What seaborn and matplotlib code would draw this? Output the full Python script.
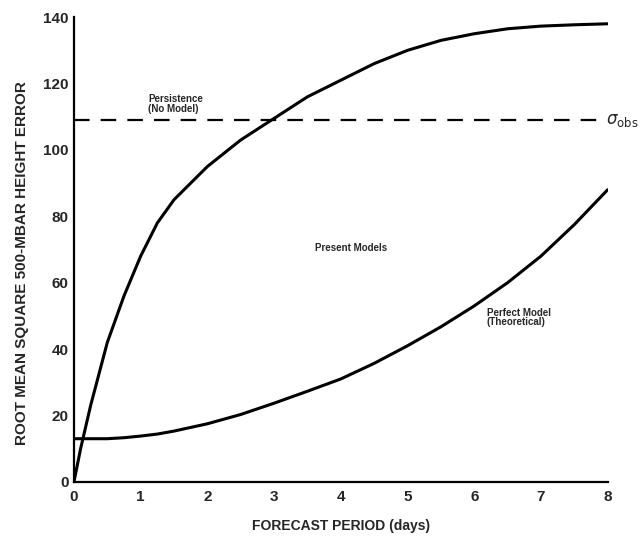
import matplotlib
matplotlib.use("Agg")
import matplotlib.pyplot as plt
import seaborn as sns
import numpy as np
import pandas as pd

# Data
days = [0, 0.1, 0.25, 0.5, 0.75, 1, 1.25, 1.5, 2, 2.5, 3, 3.5, 4, 4.5, 5, 5.5, 6, 6.5, 7, 7.5, 8]
present_models = [0, 10, 23, 42, 56, 68, 78, 85, 95, 103, 109.5, 116, 121, 126, 130, 133, 135, 136.5, 137.3, 137.7, 138]
perfect_model = [13, 13, 13, 13, 13.3, 13.8, 14.4, 15.3, 17.5, 20.3, 23.7, 27.3, 31, 35.7, 41, 46.7, 53, 60, 68, 77.5, 88]
persistence_level = 109
x_ticks = [0, 1, 2, 3, 4, 5, 6, 7, 8]
y_ticks = [0, 20, 40, 60, 80, 100, 120, 140]

df = pd.DataFrame({
    "days": days * 2,
    "error": present_models + perfect_model,
    "series": ["Present Models"] * len(days) + ["Perfect Model"] * len(days),
})

sns.set_style("white")
plt.rcParams['font.family'] = ['Liberation Sans', 'DejaVu Sans']

fig = plt.figure(figsize=(6.43, 5.36), dpi=100)
ax = fig.add_axes([0.115, 0.101, 0.83, 0.867])

sns.lineplot(data=df, x="days", y="error", units="series", estimator=None,
             color="black", linewidth=2.2, ax=ax, legend=False)
ax.plot([0, 7.85], [persistence_level, persistence_level], color="black",
        linewidth=1.6, linestyle=(0, (7, 5)))

ax.set_xlim(0, 8)
ax.set_ylim(0, 140)
ax.set_xticks(x_ticks)
ax.set_xticks(np.arange(0.5, 8, 1), minor=True)
ax.set_yticks(y_ticks)
ax.set_xticklabels([str(t) for t in x_ticks], fontweight="bold", fontsize=11)
ax.set_yticklabels([str(t) for t in y_ticks], fontweight="bold", fontsize=11)
ax.tick_params(axis="x", which="both", direction="in", length=7, width=1.3, pad=6)
ax.tick_params(axis="y", direction="in", length=11, width=1.5, pad=4)

for s in ["top", "right"]:
    ax.spines[s].set_visible(False)
for s in ["left", "bottom"]:
    ax.spines[s].set_linewidth(1.6)
    ax.spines[s].set_color("black")

ax.set_xlabel("FORECAST PERIOD (days)", fontweight="bold", fontsize=10, labelpad=11)
ax.set_ylabel("ROOT MEAN SQUARE 500-MBAR HEIGHT ERROR", fontweight="bold", fontsize=11, labelpad=10)
ax.yaxis.set_label_coords(-0.085, 0.47)

ax.text(1.11, 110.8, "Persistence\n(No Model)", fontsize=7, fontweight="bold",
        ha="left", va="bottom", linespacing=0.95)
ax.text(4.15, 70.5, "Present Models", fontsize=7, fontweight="bold", ha="center", va="center")
ax.text(6.19, 49.5, "Perfect Model\n(Theoretical)", fontsize=7, fontweight="bold",
        ha="left", va="center", linespacing=0.95)
ax.text(7.97, persistence_level, r"$\sigma_{\mathrm{obs}}$", fontsize=12,
        ha="left", va="center", clip_on=False)

fig.savefig("out.png", dpi=100)
